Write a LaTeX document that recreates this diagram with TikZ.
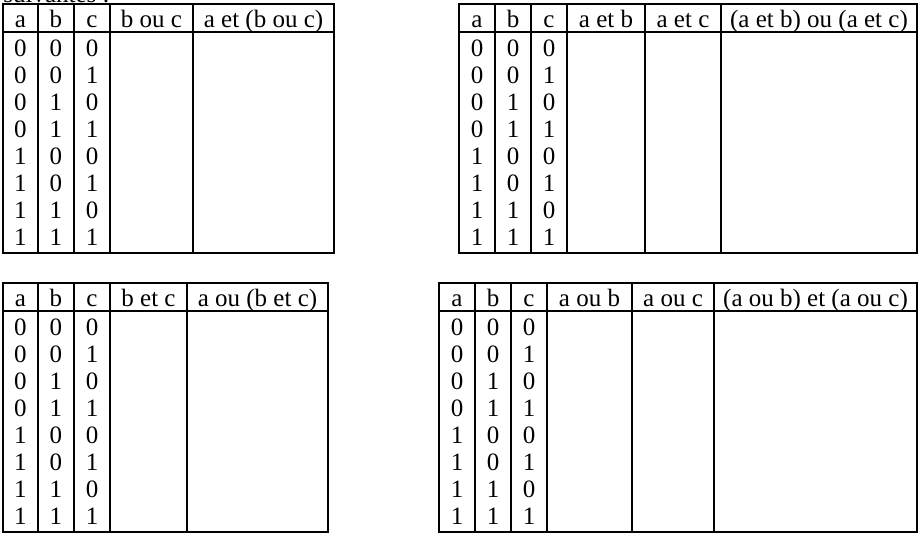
\documentclass[tikz,border=0pt]{standalone}
\usepackage{fontspec}
\setmainfont{Liberation Serif}
\usepackage{tikz}
\usetikzlibrary{positioning}
\tikzstyle{grid} = [draw=black, line width=0.8pt]
\tikzstyle{cell} = [inner sep=0pt, anchor=base, text=black]
\tikzstyle{intro} = [inner sep=0pt, anchor=base west, text=black]

\begin{document}
\begin{tikzpicture}[x=0.5pt,y=-0.5pt,font=\fontsize{12.5}{15}\selectfont]
\useasboundingbox (0,0) rectangle (921,538);
\node (intro) [intro] at (3,2.5) {suivantes :};

% a et (b ou c)
\draw[grid] (3,4) rectangle (334,253);
\draw[grid] (3,32) -- (334,32);
\foreach \x in {38,74,110,193} \draw[grid] (\x,4) -- (\x,253);
\node (t1a) [cell] at (20.5,27) {a};
\node (t1b) [cell] at (56,27) {b};
\node (t1c) [cell] at (92,27) {c};
\node (t1bc) [cell] at (151.5,27) {b ou c};
\node (t1res) [cell] at (263.5,27) {a et (b ou c)};
\foreach \a/\b/\c [count=\i from 0] in {0/0/0,0/0/1,0/1/0,0/1/1,1/0/0,1/0/1,1/1/0,1/1/1}{
  \node (t1a\i) [cell] at (20.5,56+27*\i) {\a};
  \node (t1b\i) [cell] at (56,56+27*\i) {\b};
  \node (t1c\i) [cell] at (92,56+27*\i) {\c};
}

% (a et b) ou (a et c)
\draw[grid] (459,4) rectangle (917,253);
\draw[grid] (459,32) -- (917,32);
\foreach \x in {495,531,567,645,721} \draw[grid] (\x,4) -- (\x,253);
\node (t2a) [cell] at (477,27) {a};
\node (t2b) [cell] at (513,27) {b};
\node (t2c) [cell] at (549,27) {c};
\node (t2ab) [cell] at (606,27) {a et b};
\node (t2ac) [cell] at (683,27) {a et c};
\node (t2res) [cell] at (819,27) {(a et b) ou (a et c)};
\foreach \a/\b/\c [count=\i from 0] in {0/0/0,0/0/1,0/1/0,0/1/1,1/0/0,1/0/1,1/1/0,1/1/1}{
  \node (t2a\i) [cell] at (477,56+27*\i) {\a};
  \node (t2b\i) [cell] at (513,56+27*\i) {\b};
  \node (t2c\i) [cell] at (549,56+27*\i) {\c};
}

% a ou (b et c)
\draw[grid] (3,283) rectangle (328,532);
\draw[grid] (3,311) -- (328,311);
\foreach \x in {38,74,110,187} \draw[grid] (\x,283) -- (\x,532);
\node (t3a) [cell] at (20.5,306) {a};
\node (t3b) [cell] at (56,306) {b};
\node (t3c) [cell] at (92,306) {c};
\node (t3bc) [cell] at (148.5,306) {b et c};
\node (t3res) [cell] at (257.5,306) {a ou (b et c)};
\foreach \a/\b/\c [count=\i from 0] in {0/0/0,0/0/1,0/1/0,0/1/1,1/0/0,1/0/1,1/1/0,1/1/1}{
  \node (t3a\i) [cell] at (20.5,335+27*\i) {\a};
  \node (t3b\i) [cell] at (56,335+27*\i) {\b};
  \node (t3c\i) [cell] at (92,335+27*\i) {\c};
}

% (a ou b) et (a ou c)
\draw[grid] (439,283) rectangle (917,532);
\draw[grid] (439,311) -- (917,311);
\foreach \x in {475,511,547,632,714} \draw[grid] (\x,283) -- (\x,532);
\node (t4a) [cell] at (457,306) {a};
\node (t4b) [cell] at (493,306) {b};
\node (t4c) [cell] at (529,306) {c};
\node (t4ab) [cell] at (589.5,306) {a ou b};
\node (t4ac) [cell] at (673,306) {a ou c};
\node (t4res) [cell] at (815.5,306) {(a ou b) et (a ou c)};
\foreach \a/\b/\c [count=\i from 0] in {0/0/0,0/0/1,0/1/0,0/1/1,1/0/0,1/0/1,1/1/0,1/1/1}{
  \node (t4a\i) [cell] at (457,335+27*\i) {\a};
  \node (t4b\i) [cell] at (493,335+27*\i) {\b};
  \node (t4c\i) [cell] at (529,335+27*\i) {\c};
}

\end{tikzpicture}
\end{document}
